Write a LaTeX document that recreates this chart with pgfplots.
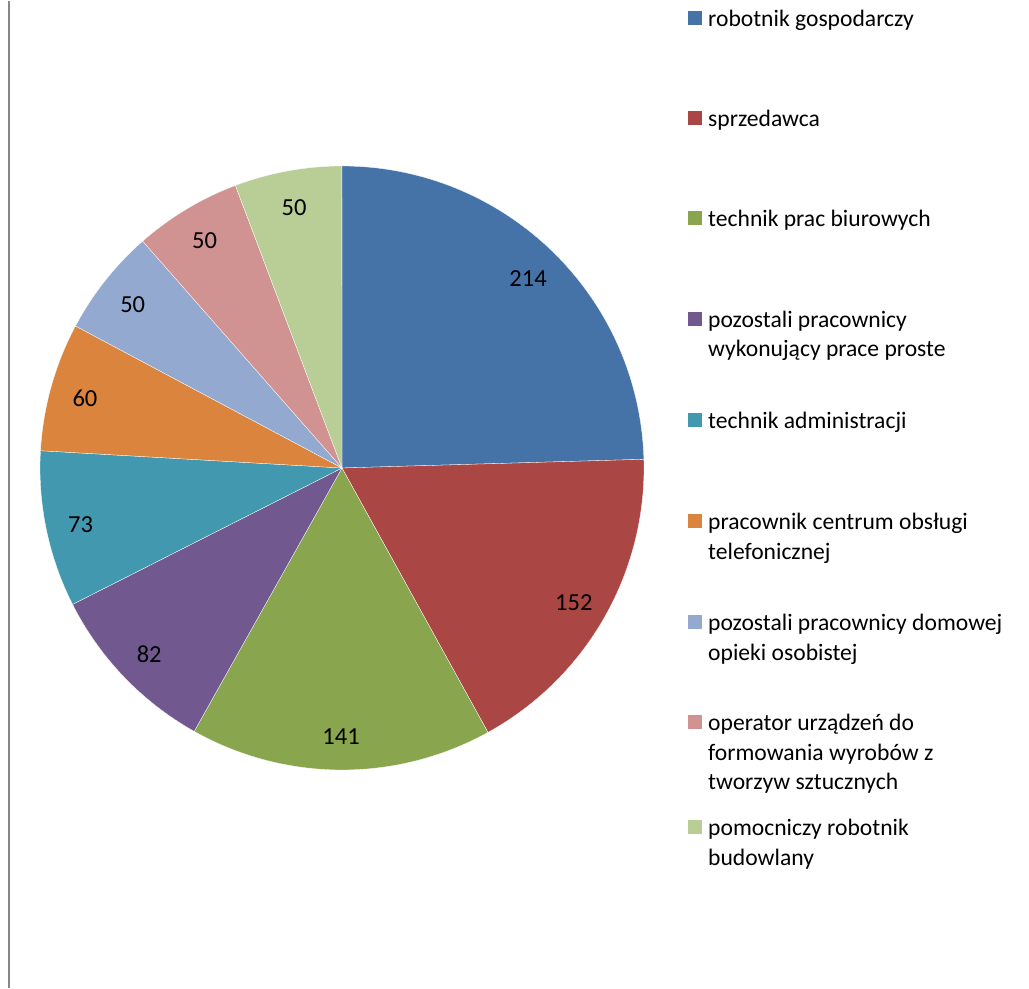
\documentclass[border=0pt]{standalone}
\usepackage{pgfplots}
\pgfplotsset{compat=1.18}
\usepackage{pgfplotstable}
\usepackage{fontspec}
\setmainfont{Carlito}
\definecolor{c1}{HTML}{4572A7}
\definecolor{c2}{HTML}{AA4643}
\definecolor{c3}{HTML}{89A54E}
\definecolor{c4}{HTML}{71588F}
\definecolor{c5}{HTML}{4198AF}
\definecolor{c6}{HTML}{DB843D}
\definecolor{c7}{HTML}{93A9CF}
\definecolor{c8}{HTML}{D19392}
\definecolor{c9}{HTML}{B9CD96}
\definecolor{framegray}{HTML}{878787}

\pgfplotstableread{
value col
214 c1
152 c2
141 c3
82 c4
73 c5
60 c6
50 c7
50 c8
50 c9
}\piedata

\newcommand\legsq[2]{%
  \fill[#1] (axis cs:346,{467-#2-7}) rectangle (axis cs:360,{467-#2+7});}
\newcommand\legline[2]{%
  \node[anchor=base west, inner sep=0pt, font=\fontsize{23.6bp}{28bp}\selectfont] at (axis cs:366,{467-#1-1.5}) {#2};}

\begin{document}
\begin{tikzpicture}
\begin{axis}[x=1bp,y=1bp,hide axis,xmin=-302,xmax=302,ymin=-302,ymax=302,clip=false]
\path (axis cs:-342,-520) rectangle (axis cs:687,467);
\draw[framegray, line width=2bp] (axis cs:-333,467) -- (axis cs:-333,-520);
\pgfplotstablegetrowsof{\piedata}
\pgfmathtruncatemacro\nrows{\pgfplotsretval-1}
\gdef\total{0}
\foreach \i in {0,...,\nrows}{
  \pgfplotstablegetelem{\i}{value}\of\piedata
  \pgfmathsetmacro\tmpsum{\total+\pgfplotsretval}
  \xdef\total{\tmpsum}
}
\gdef\cur{90}
\foreach \i in {0,...,\nrows}{
  \pgfplotstablegetelem{\i}{value}\of\piedata
  \edef\val{\pgfplotsretval}
  \pgfplotstablegetelem{\i}{col}\of\piedata
  \edef\colname{\pgfplotsretval}
  \pgfmathsetmacro\frac{\val/\total}
  \pgfmathsetmacro\spn{360*\frac}
  \pgfmathsetmacro\endang{\cur-\spn}
  \pgfmathsetmacro\midang{\cur-\spn/2}
  \edef\temp{\noexpand\fill[\colname, draw=white, line width=0.3bp] (axis cs:0,0) -- (axis cs:{302*cos(\cur)},{302*sin(\cur)}) arc[start angle=\cur, end angle=\endang, radius=302bp] -- cycle;
  \noexpand\node[font=\noexpand\fontsize{24.5bp}{28bp}\noexpand\selectfont, inner sep=0pt] at (axis cs:{267*cos(\midang)},{267*sin(\midang)-2}) {\val};}
  \temp
  \xdef\cur{\endang}
}
% legend
\legsq{c1}{17}\legline{24}{robotnik gospodarczy}
\legsq{c2}{117}\legline{124}{sprzedawca}
\legsq{c3}{217}\legline{224}{technik prac biurowych}
\legsq{c4}{318}\legline{325}{pozostali pracownicy}\legline{354.5}{wykonujący prace proste}
\legsq{c5}{419}\legline{426}{technik administracji}
\legsq{c6}{520}\legline{527}{pracownik centrum obsługi}\legline{556.5}{telefonicznej}
\legsq{c7}{621}\legline{628}{pozostali pracownicy domowej}\legline{657.5}{opieki osobistej}
\legsq{c8}{721}\legline{728}{operator urządzeń do}\legline{757.5}{formowania wyrobów z}\legline{787}{tworzyw sztucznych}
\legsq{c9}{826}\legline{833}{pomocniczy robotnik}\legline{862.5}{budowlany}
\end{axis}
\end{tikzpicture}
\end{document}
